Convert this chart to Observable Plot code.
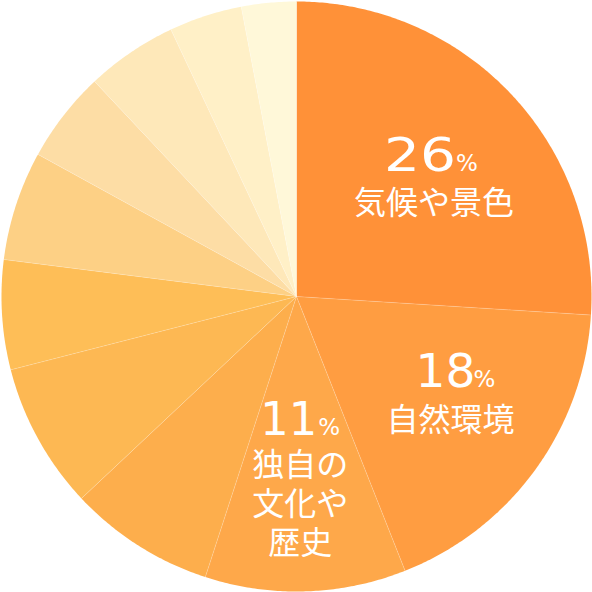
<!DOCTYPE html>
<html><head><meta charset="utf-8">
<script src="https://cdn.jsdelivr.net/npm/d3@7"></script>
<script src="https://cdn.jsdelivr.net/npm/@observablehq/plot@0.6"></script>
<style>body{margin:0;background:#fff}#chart svg{display:block}</style>
</head><body><div id="chart"></div>
<script>
// ---- data ----
const categories = ["気候や景色","自然環境","独自の文化や歴史","項目4","項目5","項目6","項目7","項目8","項目9","項目10","項目11"];
const shares = [26, 18, 11, 8, 8, 6, 6, 5, 5, 4, 3];
const colors = ["#FF9138","#FF9D41","#FEA84A","#FDAE4C","#FDB853","#FEBE57","#FDD085","#FDDDA5","#FEE8B9","#FFF0C7","#FFF8D9"];
const labelNames = ["気候や景色", "自然環境", "独自の\n文化や\n歴史"];

// ---- layout ----
const R = 295;
const labelRadius = 183;
const labelLayout = [
  {pdx: 26, pdy: 0,   pctdx: 0,  numWidth: 72, ndx: 4,  ndy: 30},
  {pdx: 31, pdy: -17, pctdx: -2, numWidth: 60, ndx: 6,  ndy: 14},
  {pdx: 15, pdy: -44, pctdx: 1,  numWidth: 57, ndx: -2, ndy: 23}
];

const total = d3.sum(shares);
let acc = 0;
const slices = shares.map((v, i) => {
  const a0 = acc / total * 2 * Math.PI; acc += v;
  const a1 = acc / total * 2 * Math.PI;
  return {cat: categories[i], v, a0, a1};
});
const pts = [];
for (const s of slices) {
  pts.push({cat: s.cat, x: 0, y: 0});
  const n = Math.max(2, Math.ceil((s.a1 - s.a0) / (Math.PI / 360)));
  for (let k = 0; k <= n; k++) {
    const a = s.a0 + (s.a1 - s.a0) * k / n;
    pts.push({cat: s.cat, x: R * Math.sin(a), y: -R * Math.cos(a)});
  }
}
const labels = labelNames.map((name, i) => {
  const s = slices[i], m = (s.a0 + s.a1) / 2, L = labelLayout[i];
  const cx = labelRadius * Math.sin(m), cy = -labelRadius * Math.cos(m);
  return {num: String(shares[i]), name, px: cx + L.pdx, py: cy + L.pdy, qx: cx + L.pdx + L.pctdx, nx: cx + L.ndx, ny: cy + L.ndy};
});

const chart = Plot.plot({
  width: 592, height: 592,
  margin: 0,
  x: {domain: [-296, 296], range: [0, 592], axis: null},
  y: {domain: [-296, 296], range: [0, 592], axis: null},
  color: {type: "ordinal", domain: categories, range: colors},
  marks: [
    Plot.line(pts, {x: "x", y: "y", z: "cat", fill: "cat", stroke: null, curve: "linear-closed"}),
    Plot.link(slices, {x1: 0, y1: 0, x2: d => R * Math.sin(d.a0), y2: d => -R * Math.cos(d.a0), stroke: "white", strokeOpacity: 0.3, strokeWidth: 0.7}),
    Plot.text(labels, {x: "px", y: "py", text: "num", textAnchor: "end", lineAnchor: "bottom", fontSize: 47, fontFamily: "DejaVu Sans", fill: "white"}),
    Plot.text(labels, {x: "qx", y: "py", text: () => "%", textAnchor: "start", lineAnchor: "bottom", fontSize: 23, fontFamily: "DejaVu Sans", fill: "white"}),
    Plot.text(labels, {x: "nx", y: "ny", text: "name", textAnchor: "middle", lineAnchor: "middle", lineHeight: 1.23, fontSize: 32, fontFamily: "Noto Sans CJK JP", fill: "white"})
  ]
});
const numTexts = Array.from(chart.querySelectorAll("text")).filter(t => /^\d+$/.test(t.textContent.trim()));
numTexts.forEach(t => {
  const i = labels.findIndex(l => l.num === t.textContent.trim());
  if (i >= 0) {
    t.setAttribute("textLength", labelLayout[i].numWidth);
    t.setAttribute("lengthAdjust", "spacingAndGlyphs");
  }
});
document.getElementById("chart").appendChild(chart);
</script>
</body></html>
